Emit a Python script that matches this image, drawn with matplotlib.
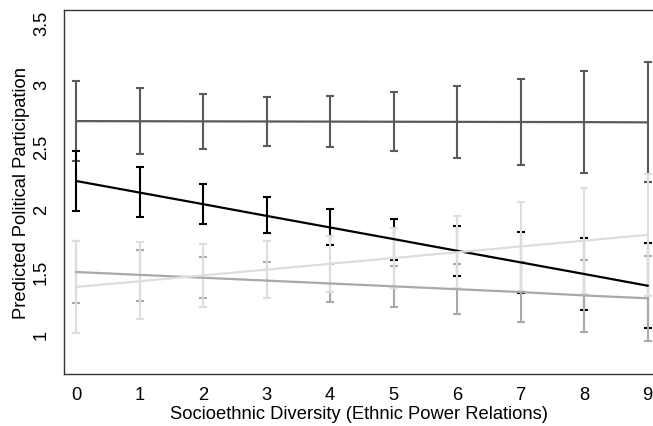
import matplotlib
matplotlib.use("Agg")
import matplotlib.pyplot as plt
import numpy as np

plt.rcParams['font.family'] = ['Liberation Sans', 'DejaVu Sans']

# diversity score (x) and the predicted values with confidence bounds
x = np.arange(10)

dark_mid = [2.705, 2.704, 2.703, 2.702, 2.701, 2.700, 2.699, 2.698, 2.697, 2.695]
dark_lo = [2.383, 2.442, 2.482, 2.506, 2.495, 2.463, 2.410, 2.353, 2.287, 2.220]
dark_hi = [3.027, 2.971, 2.925, 2.899, 2.907, 2.940, 2.984, 3.043, 3.110, 3.180]

black_mid = [2.225, 2.132, 2.039, 1.945, 1.852, 1.759, 1.665, 1.572, 1.479, 1.385]
black_lo = [1.983, 1.933, 1.879, 1.807, 1.711, 1.595, 1.465, 1.327, 1.190, 1.046]
black_hi = [2.468, 2.335, 2.200, 2.093, 2.000, 1.919, 1.865, 1.817, 1.767, 1.729]

mid_mid = [1.495, 1.472, 1.449, 1.426, 1.403, 1.380, 1.357, 1.334, 1.307, 1.284]
mid_lo = [1.246, 1.264, 1.284, 1.284, 1.252, 1.216, 1.158, 1.091, 1.016, 0.944]
mid_hi = [1.744, 1.673, 1.612, 1.572, 1.556, 1.544, 1.556, 1.573, 1.594, 1.624]

light_mid = [1.375, 1.421, 1.468, 1.514, 1.561, 1.607, 1.653, 1.700, 1.746, 1.793]
light_lo = [1.006, 1.115, 1.216, 1.283, 1.337, 1.364, 1.370, 1.340, 1.315, 1.300]
light_hi = [1.745, 1.732, 1.719, 1.740, 1.780, 1.845, 1.946, 2.053, 2.165, 2.280]

yticks = [1, 1.5, 2, 2.5, 3, 3.5]
ytick_labels = ["1", "1.5", "2", "2.5", "3", "3.5"]

series = [
    (dark_mid, dark_lo, dark_hi, "#5a5a5a"),
    (black_mid, black_lo, black_hi, "#000000"),
    (mid_mid, mid_lo, mid_hi, "#a9a9a9"),
    (light_mid, light_lo, light_hi, "#dddddd"),
]

fig = plt.figure(figsize=(6.53, 4.27), dpi=100)
ax = fig.add_axes([64 / 653, 52 / 427, 590 / 653, 364 / 427])

# bars first, fitted lines on top
for mid, lo, hi, col in series:
    mid = np.array(mid)
    err = [mid - np.array(lo), np.array(hi) - mid]
    ax.errorbar(x, mid, yerr=err, fmt="none", ecolor=col, elinewidth=1.5,
                capsize=2.9, capthick=1.5)
for mid, lo, hi, col in series:
    ax.plot(x, mid, color=col, lw=1.6)

ax.set_xlim(-0.19, 9.1)
ax.set_ylim(0.677, 3.596)
ax.set_xticks(x)
ax.set_yticks(yticks)
ax.set_yticklabels(ytick_labels, rotation=90, va="center")
ax.tick_params(axis="both", length=0, labelsize=13.2)
ax.tick_params(axis="x", pad=8.5)
ax.tick_params(axis="y", pad=10)

for s in ("left", "top", "bottom"):
    ax.spines[s].set_color("#333333")
    ax.spines[s].set_linewidth(1.0)
ax.spines["right"].set_visible(False)

ax.set_xlabel("Socioethnic Diversity (Ethnic Power Relations)", fontsize=13.2)
ax.set_ylabel("Predicted Political Participation", fontsize=13.2)
ax.xaxis.set_label_coords(0.5, -0.085)
ax.yaxis.set_label_coords(-0.058, 0.5)

fig.savefig("out.png", dpi=100)
